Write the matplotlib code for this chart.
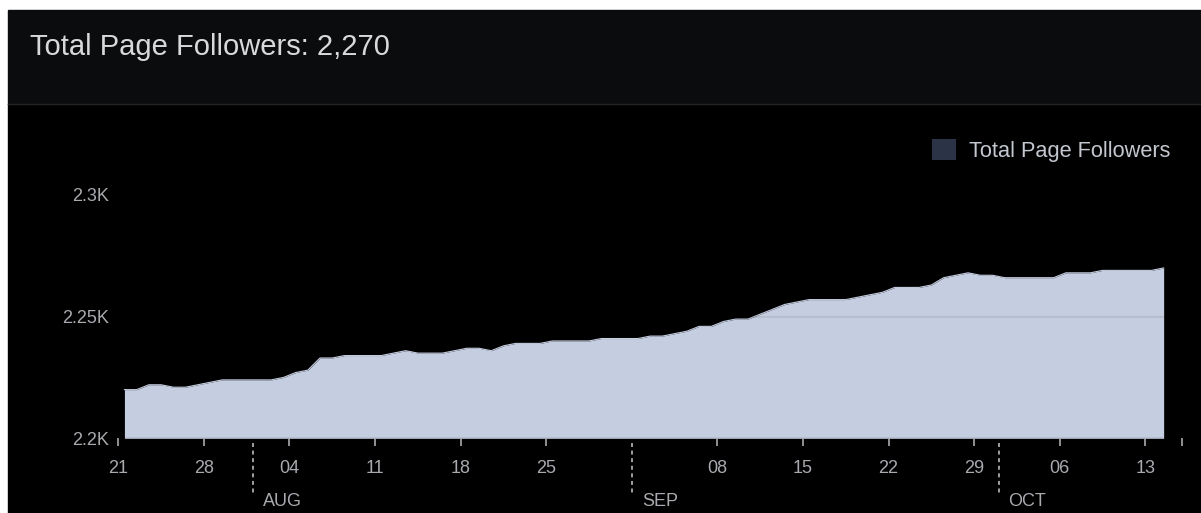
import numpy as np
import pandas as pd
import matplotlib
matplotlib.use('Agg')
import matplotlib.pyplot as plt
import matplotlib.dates as mdates
from matplotlib.patches import Patch, Rectangle
from matplotlib.lines import Line2D

plt.rcParams['font.family'] = ['Liberation Sans', 'DejaVu Sans']

# daily follower counts, 21 Jul -> 14 Oct
followers = [2220, 2220, 2222, 2222, 2221, 2221, 2222, 2223, 2224, 2224,
             2224, 2224, 2224, 2225, 2227, 2228, 2233, 2233, 2234, 2234,
             2234, 2234, 2235, 2236, 2235, 2235, 2235, 2236, 2237, 2237,
             2236, 2238, 2239, 2239, 2239, 2240, 2240, 2240, 2240, 2241,
             2241, 2241, 2241, 2242, 2242, 2243, 2244, 2246, 2246, 2248,
             2249, 2249, 2251, 2253, 2255, 2256, 2257, 2257, 2257, 2257,
             2258, 2259, 2260, 2262, 2262, 2262, 2263, 2266, 2267, 2268,
             2267, 2267, 2266, 2266, 2266, 2266, 2266, 2268, 2268, 2268,
             2269, 2269, 2269, 2269, 2269, 2270]
dates = pd.date_range('2023-07-21 12:00', periods=len(followers), freq='D')

x_start = pd.Timestamp('2023-07-21')
x_end = pd.Timestamp('2023-10-16')
month_starts = pd.to_datetime(['2023-08-01', '2023-09-01', '2023-10-01'])
month_labels = ['AUG', 'SEP', 'OCT']
# weekly ticks; the one falling on a month start is replaced by the month marker
week_ticks = [d for d in pd.date_range('2023-07-21', '2023-10-13', freq='7D')
              if d not in month_starts]
y_ticks = [2200, 2250, 2300]
y_labels = ['2.2K', '2.25K', '2.3K']

W, H = 1201, 513
fig = plt.figure(figsize=(W / 100, H / 100), dpi=100, facecolor='white')

# panel background: header band + black plot area
fig.patches.append(Rectangle((8 / W, 0), 1, (H - 104) / H, transform=fig.transFigure,
                             color='black', zorder=-2))
fig.patches.append(Rectangle((8 / W, (H - 104) / H), 1, 94 / H, transform=fig.transFigure,
                             color='#0b0c0e', zorder=-2))
fig.lines.append(Line2D([8 / W, 1], [(H - 104) / H] * 2, transform=fig.transFigure,
                        color='#222327', lw=1, zorder=-1))

fig.text(30 / W, 1 - 47 / H, 'Total Page Followers: 2,270', fontsize=21,
         color='#d8d9db', va='center', ha='left')

ax = fig.add_axes([118.3 / W, 74.7 / H, (1182 - 118.3) / W, 0.5218])
ax.patch.set_alpha(0)

ax.fill_between(dates, followers, 2200, color='#c5cde0', lw=0, zorder=1)
ax.plot(dates, followers, color='#c5cde0', lw=0.8, zorder=1)

ax.set_xlim(x_start, x_end)
ax.set_ylim(2200, 2310)

ax.set_yticks(y_ticks)
ax.set_yticklabels(y_labels)
ax.set_xticks(list(week_ticks) + [x_end])
ax.set_xticklabels([d.strftime('%d') for d in week_ticks] + [''])

ax.tick_params(axis='y', length=0, pad=6.5, labelsize=13, labelcolor='#a8aaaf')
ax.tick_params(axis='x', length=5.8, width=1.2, color='#a8aaaf', pad=10,
               labelsize=13, labelcolor='#a8aaaf')

ax.grid(axis='y', color='black', alpha=0.07, lw=1.5)
ax.set_axisbelow(False)
for s in ax.spines.values():
    s.set_visible(False)

# month separators under the axis
xt = ax.get_xaxis_transform()
for m, lab in zip(month_starts, month_labels):
    mx = mdates.date2num(m)
    ax.plot([mx, mx], [-0.017, -0.21], transform=xt, color='#a8aaaf', lw=1.3,
            ls=(0, (2.2, 2)), clip_on=False)
    ax.annotate(lab, xy=(mx, 0), xycoords=xt, xytext=(7.2, -45.5),
                textcoords='offset points', fontsize=13, color='#a8aaaf',
                ha='left', va='center')

handle = Patch(facecolor='#2b3346', edgecolor='none', label='Total Page Followers')
fig.legend(handles=[handle], loc='center right', bbox_to_anchor=(1170 / W, 1 - 150.5 / H),
           frameon=False, fontsize=15.7, labelcolor='#c3c7cf', handlelength=1.06,
           handleheight=1.06, handletextpad=0.6, borderpad=0, borderaxespad=0)

fig.savefig('out.png', dpi=100, facecolor='white')
